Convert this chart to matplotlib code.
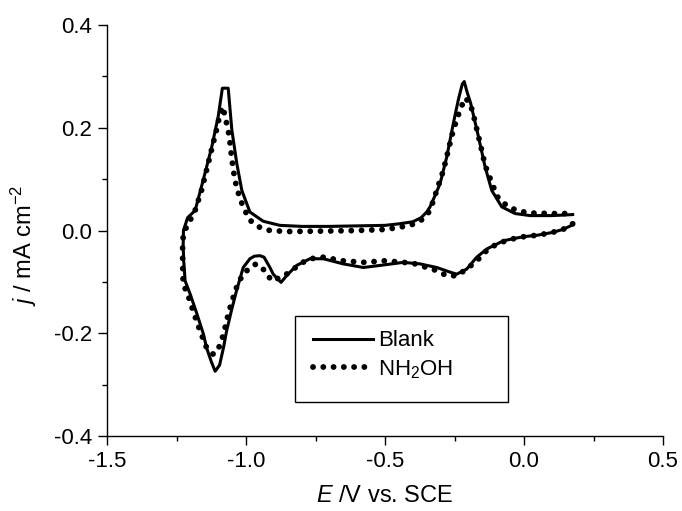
import matplotlib
matplotlib.use("Agg")
import matplotlib.pyplot as plt
from matplotlib.patches import Rectangle
from matplotlib.ticker import MultipleLocator

plt.rcParams["font.family"] = ["Liberation Sans", "DejaVu Sans"]
plt.rcParams["mathtext.fontset"] = "custom"
plt.rcParams["mathtext.rm"] = "Liberation Sans"
plt.rcParams["mathtext.it"] = "Liberation Sans:italic"
plt.rcParams["axes.unicode_minus"] = False

# Blank electrolyte: cathodic sweep (right to left) then anodic sweep (left to right)
blank_E = [0.175, 0.14, 0.10, 0.05, 0.0, -0.03, -0.074, -0.10, -0.134, -0.17,
           -0.206, -0.242, -0.266, -0.314, -0.374, -0.434, -0.518, -0.578, -0.65, -0.722,
           -0.77, -0.818, -0.854, -0.874, -0.902, -0.914, -0.935, -0.950, -0.970, -0.986,
           -1.01, -1.034, -1.052, -1.07, -1.081, -1.095, -1.111, -1.125, -1.142, -1.153,
           -1.178, -1.200, -1.219, -1.224, -1.226,
           -1.225, -1.21, -1.183, -1.154, -1.123, -1.10, -1.085, -1.064, -1.051, -1.033,
           -1.015, -0.986, -0.938, -0.878, -0.80, -0.70, -0.60, -0.50, -0.45, -0.40,
           -0.37, -0.35, -0.338, -0.32, -0.302, -0.278, -0.254, -0.236, -0.222, -0.215,
           -0.205, -0.192, -0.164, -0.14, -0.116, -0.08, -0.032, 0.022, 0.05, 0.10,
           0.14, 0.175]
blank_j = [0.011, 0.002, -0.004, -0.009, -0.012, -0.015, -0.020, -0.027, -0.036, -0.052,
           -0.075, -0.085, -0.081, -0.072, -0.065, -0.062, -0.068, -0.072, -0.065, -0.055,
           -0.055, -0.068, -0.088, -0.101, -0.085, -0.072, -0.052, -0.049, -0.050, -0.055,
           -0.072, -0.117, -0.155, -0.196, -0.228, -0.262, -0.274, -0.255, -0.228, -0.202,
           -0.160, -0.125, -0.098, -0.060, -0.030,
           0.000, 0.025, 0.039, 0.098, 0.163, 0.222, 0.277, 0.277, 0.196, 0.130,
           0.078, 0.036, 0.018, 0.010, 0.008, 0.008, 0.009, 0.010, 0.013, 0.017,
           0.025, 0.036, 0.046, 0.068, 0.091, 0.143, 0.209, 0.255, 0.285, 0.290,
           0.270, 0.248, 0.183, 0.124, 0.078, 0.046, 0.033, 0.029, 0.029, 0.029,
           0.030, 0.031]

# With hydroxylamine added
nh2oh_E = [0.175, 0.14, 0.10, 0.05, 0.0, -0.056, -0.10, -0.134, -0.17, -0.206,
           -0.242, -0.278, -0.314, -0.35, -0.39, -0.434, -0.50, -0.578, -0.65, -0.722,
           -0.77, -0.806, -0.842, -0.87, -0.908, -0.932, -0.964, -1.004, -1.028, -1.052,
           -1.064, -1.081, -1.093, -1.105, -1.117, -1.13, -1.142, -1.165, -1.19, -1.208,
           -1.226, -1.228, -1.228,
           -1.225, -1.201, -1.183, -1.16, -1.142, -1.124, -1.106, -1.093, -1.085, -1.076,
           -1.06, -1.052, -1.04, -1.022, -1.004, -0.986, -0.95, -0.914, -0.85, -0.70,
           -0.60, -0.50, -0.45, -0.405, -0.37, -0.345, -0.33, -0.314, -0.29, -0.272,
           -0.254, -0.242, -0.23, -0.212, -0.194, -0.182, -0.158, -0.14, -0.11, -0.092,
           -0.056, -0.02, 0.022, 0.10, 0.175]
nh2oh_j = [0.013, 0.002, -0.004, -0.009, -0.012, -0.018, -0.027, -0.039, -0.059, -0.075,
           -0.088, -0.088, -0.078, -0.072, -0.065, -0.062, -0.059, -0.062, -0.059, -0.052,
           -0.055, -0.065, -0.081, -0.090, -0.098, -0.078, -0.065, -0.081, -0.101, -0.140,
           -0.163, -0.202, -0.222, -0.236, -0.241, -0.236, -0.228, -0.196, -0.157, -0.127,
           -0.104, -0.060, -0.030,
           -0.005, 0.020, 0.039, 0.078, 0.117, 0.157, 0.196, 0.228, 0.241, 0.225,
           0.183, 0.143, 0.098, 0.062, 0.039, 0.020, 0.006, 0.000, -0.002, -0.001,
           0.000, 0.002, 0.006, 0.011, 0.020, 0.033, 0.052, 0.078, 0.117, 0.157,
           0.196, 0.215, 0.235, 0.258, 0.248, 0.225, 0.170, 0.127, 0.085, 0.062,
           0.046, 0.038, 0.034, 0.033, 0.033]

x_ticks = [-1.5, -1.0, -0.5, 0.0, 0.5]
y_ticks = [-0.4, -0.2, 0.0, 0.2, 0.4]

fig = plt.figure(figsize=(6.82, 5.11), dpi=100)
ax = fig.add_axes([107 / 682, 1 - 436 / 511, (663 - 107) / 682, (436 - 25) / 511])

ax.plot(blank_E, blank_j, color="black", lw=2.2, solid_joinstyle="round",
        label="Blank")
ax.plot(nh2oh_E, nh2oh_j, color="black", lw=4.2, linestyle=(0, (0.01, 1.75)),
        dash_capstyle="round", label="NH$_2$OH")

ax.set_xlim(-1.5, 0.5)
ax.set_ylim(-0.4, 0.4)
ax.set_xticks(x_ticks)
ax.set_yticks(y_ticks)
ax.set_xticklabels([f"{v:.1f}" for v in x_ticks])
ax.set_yticklabels([f"{v:.1f}" for v in y_ticks])
ax.xaxis.set_minor_locator(MultipleLocator(0.25))
ax.yaxis.set_minor_locator(MultipleLocator(0.1))
ax.tick_params(which="major", direction="out", length=6.5, width=1.0, labelsize=16, pad=4)
ax.tick_params(which="minor", direction="out", length=3.6, width=1.0)
for side in ("top", "right"):
    ax.spines[side].set_visible(False)
for side in ("left", "bottom"):
    ax.spines[side].set_linewidth(1.0)

ax.set_xlabel("$E$ /V vs. SCE", fontsize=17, labelpad=10)
ax.set_ylabel("$j$ / mA cm$^{-2}$", fontsize=17)
ax.yaxis.set_label_coords(-0.122, 0.465)

# Legend entries with a separate rectangular frame
leg = ax.legend(loc="center left", bbox_to_anchor=((313 - 107) / 556, (436 - 355.5) / 411),
                borderaxespad=0, borderpad=0, fontsize=16, frameon=False,
                handlelength=2.7, handletextpad=0.23, labelspacing=0.3)
ax.add_patch(Rectangle(((295 - 107) / 556, (436 - 402) / 411), 213 / 556, 86 / 411,
                       transform=ax.transAxes, fill=False, edgecolor="black",
                       linewidth=1.0, zorder=5))

fig.savefig("out.png", dpi=100)
